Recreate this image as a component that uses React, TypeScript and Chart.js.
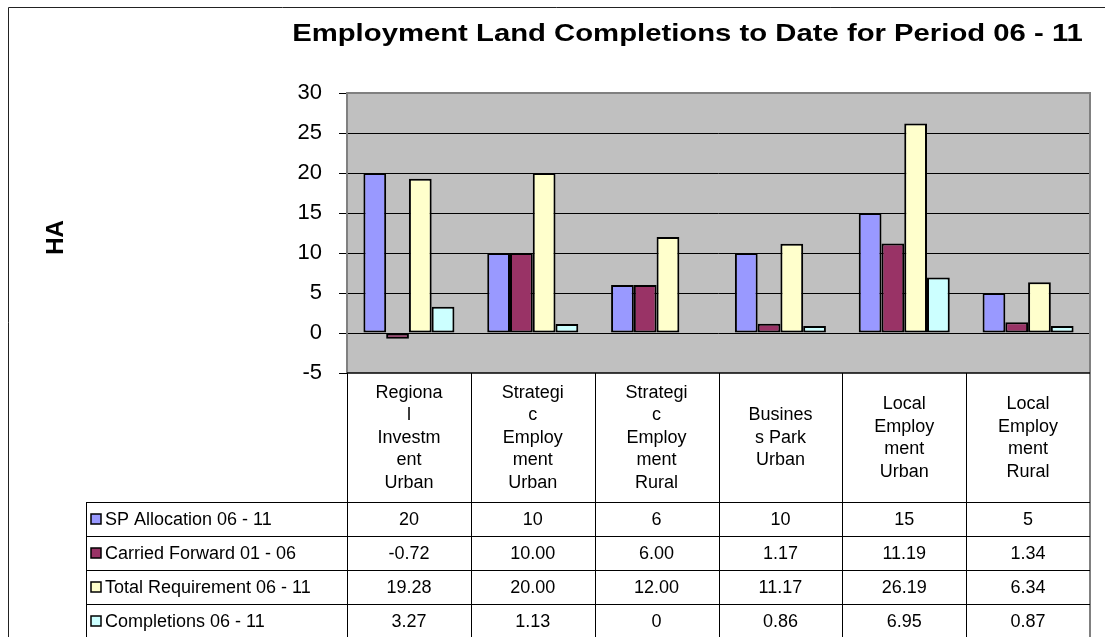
import { useEffect, useRef } from "react";
import { Chart, registerables } from "chart.js";

Chart.register(...registerables);

const chartTitle = "Employment Land Completions to Date for Period 06 - 11";
const yAxisTitle = "HA";
const categories: string[][] = [
  ["Regiona", "l", "Investm", "ent", "Urban"],
  ["Strategi", "c", "Employ", "ment", "Urban"],
  ["Strategi", "c", "Employ", "ment", "Rural"],
  ["Busines", "s Park", "Urban"],
  ["Local", "Employ", "ment", "Urban"],
  ["Local", "Employ", "ment", "Rural"],
];
const seriesNames = [
  "SP Allocation 06 - 11",
  "Carried Forward 01 - 06",
  "Total Requirement 06 - 11",
  "Completions 06 - 11",
];
const spAllocation = [20, 10, 6, 10, 15, 5];
const carriedForward = [-0.72, 10.0, 6.0, 1.17, 11.19, 1.34];
const totalRequirement = [19.28, 20.0, 12.0, 11.17, 26.19, 6.34];
const completions = [3.27, 1.13, 0, 0.86, 6.95, 0.87];
const seriesDecimals = [0, 2, 2, 2];
const seriesColors = ["#9999FF", "#993366", "#FFFFCC", "#CCFFFF"];
const yMin = -5;
const yMax = 30;
const yStep = 5;

const seriesValues = [spAllocation, carriedForward, totalRequirement, completions];

const FONT = "'Liberation Sans', Arial, sans-serif";

function fmt(v: number, d: number) {
  return v === 0 ? "0" : v.toFixed(d);
}

const excelPlugin = {
  id: "excelLook",
  beforeDraw(chart: any) {
    const { ctx, chartArea: a, width, height } = chart;
    ctx.save();
    ctx.fillStyle = "#FFFFFF";
    ctx.fillRect(0, 0, width, height);
    ctx.fillStyle = "#C0C0C0";
    ctx.fillRect(a.left, a.top, a.right - a.left, a.bottom - a.top);
    // outer frame
    ctx.strokeStyle = "#222";
    ctx.lineWidth = 1;
    ctx.beginPath();
    ctx.moveTo(8.5, height);
    ctx.lineTo(8.5, 7.5);
    ctx.lineTo(width, 7.5);
    ctx.stroke();
    // title
    ctx.fillStyle = "#000";
    ctx.font = `bold 24px ${FONT}`;
    ctx.textAlign = "center";
    ctx.textBaseline = "alphabetic";
    ctx.save();
    ctx.translate(687.5, 41);
    ctx.scale(1.22, 1);
    ctx.fillText(chartTitle, 0, 0);
    ctx.restore();
    // y title
    ctx.save();
    ctx.translate(56, 237.5);
    ctx.rotate(-Math.PI / 2);
    ctx.textBaseline = "middle";
    ctx.font = `bold 24px ${FONT}`;
    ctx.fillText(yAxisTitle, 0, 0);
    ctx.restore();
    ctx.restore();
  },
  afterDraw(chart: any) {
    const { ctx, chartArea: a, height } = chart;
    const x = chart.scales.x;
    const n = categories.length;
    const half = (x.getPixelForValue(1) - x.getPixelForValue(0)) / 2;
    const bounds: number[] = [];
    for (let i = 0; i < n; i++) bounds.push(x.getPixelForValue(i) - half);
    bounds.push(x.getPixelForValue(n - 1) + half);
    const tableTop = x.bottom;
    const rowH = 34;
    const legendLeft = 86;
    const tableBottom = tableTop + rowH * seriesNames.length;

    ctx.save();
    // plot border
    ctx.strokeStyle = "#808080";
    ctx.lineWidth = 2;
    ctx.beginPath();
    ctx.moveTo(a.left, a.bottom);
    ctx.lineTo(a.left, a.top);
    ctx.lineTo(a.right, a.top);
    ctx.lineTo(a.right, tableBottom);
    ctx.stroke();
    ctx.strokeStyle = "#000";
    ctx.lineWidth = 1.5;
    ctx.beginPath();
    ctx.moveTo(a.left, a.bottom);
    ctx.lineTo(a.right, a.bottom);
    ctx.stroke();

    // table grid
    ctx.strokeStyle = "#000";
    ctx.lineWidth = 1;
    ctx.beginPath();
    for (let i = 0; i < bounds.length - 1; i++) {
      const bx = Math.round(bounds[i]) + 0.5;
      ctx.moveTo(bx, a.bottom);
      ctx.lineTo(bx, Math.min(tableBottom, height));
    }
    ctx.moveTo(legendLeft + 0.5, tableTop);
    ctx.lineTo(legendLeft + 0.5, tableBottom);
    for (let r = 0; r <= seriesNames.length; r++) {
      const ry = Math.round(tableTop + r * rowH) + 0.5;
      ctx.moveTo(legendLeft, ry);
      ctx.lineTo(a.right, ry);
    }
    ctx.stroke();

    // rows
    ctx.font = `18px ${FONT}`;
    ctx.textBaseline = "middle";
    for (let s = 0; s < seriesNames.length; s++) {
      const cy = tableTop + s * rowH + rowH / 2;
      // key
      ctx.fillStyle = seriesColors[s];
      ctx.fillRect(91, Math.round(cy - 5), 10, 10);
      ctx.strokeStyle = "#000";
      ctx.lineWidth = 1.5;
      ctx.strokeRect(91, Math.round(cy - 5), 10, 10);
      ctx.fillStyle = "#000";
      ctx.textAlign = "left";
      ctx.fillText(seriesNames[s], 105, cy + 1);
      ctx.textAlign = "center";
      for (let i = 0; i < n; i++) {
        ctx.fillText(fmt(seriesValues[s][i], seriesDecimals[s]), x.getPixelForValue(i), cy + 1);
      }
    }
    ctx.restore();
  },
};

export default function App() {
  const ref = useRef<HTMLCanvasElement | null>(null);
  useEffect(() => {
    if (!ref.current) return;
    const chart = new Chart(ref.current, {
      type: "bar",
      data: {
        labels: categories,
        datasets: seriesNames.map((name, s) => ({
          label: name,
          data: seriesValues[s],
          backgroundColor: seriesColors[s],
          borderColor: "#000",
          borderWidth: 2,
          borderSkipped: false,
          categoryPercentage: 0.735,
          barPercentage: 1,
        })),
      },
      options: {
        responsive: false,
        animation: false,
        events: [],
        layout: { padding: { left: 247, right: 15, top: 93, bottom: 135 } },
        plugins: {
          legend: { display: false },
          title: { display: false },
          tooltip: { enabled: false },
        },
        scales: {
          x: {
            grid: { display: false },
            border: { display: false },
            ticks: {
              autoSkip: false,
              maxRotation: 0,
              minRotation: 0,
              crossAlign: "center",
              padding: 12,
              color: "#000",
              font: { family: FONT, size: 18, lineHeight: 1.25 },
            },
            afterFit: (s: any) => {
              s.height = 129;
              s.paddingLeft = 0;
              s.paddingRight = 0;
            },
          },
          y: {
            min: yMin,
            max: yMax,
            border: { display: false },
            grid: {
              color: (c: any) =>
                c.tick && (c.tick.value === yMax || c.tick.value === yMin) ? "rgba(0,0,0,0)" : "#000",
              tickColor: "#000",
              tickLength: 8,
              lineWidth: 1,
            },
            ticks: {
              stepSize: yStep,
              padding: 17,
              color: "#000",
              font: { family: FONT, size: 22 },
            },
            afterFit: (s: any) => {
              s.width = 100;
              s.paddingTop = 0;
              s.paddingBottom = 0;
            },
          },
        },
      },
      plugins: [excelPlugin],
    } as any);
    return () => chart.destroy();
  }, []);
  return (
    <div style={{ position: "fixed", left: 0, top: 0, width: 1105, height: 637, background: "#fff" }}>
      <canvas ref={ref} width={1105} height={637} style={{ display: "block" }} />
    </div>
  );
}
